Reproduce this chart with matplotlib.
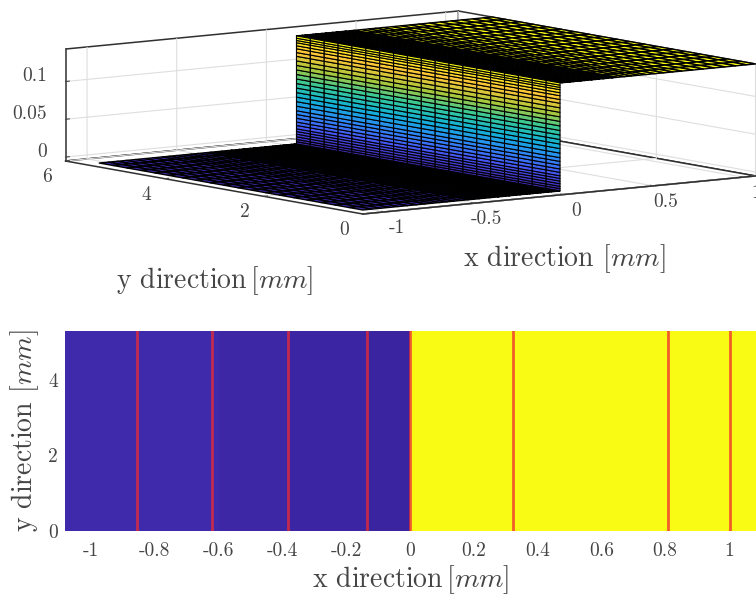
import matplotlib
matplotlib.use("Agg")
import numpy as np
import matplotlib.pyplot as plt
from matplotlib.colors import LinearSegmentedColormap
from mpl_toolkits.mplot3d import Axes3D  # noqa

plt.rcParams['font.family'] = ['cmr10', 'DejaVu Serif']
plt.rcParams['mathtext.fontset'] = 'cm'
plt.rcParams['axes.unicode_minus'] = False
plt.rcParams['axes.formatter.use_mathtext'] = True

# ---- data -------------------------------------------------------------
floor_x = [-1.12,-1.07,-1.02,-.97,-.92,-.87,-.82,-.77,-.73,-.69,-.65,-.61,-.57,-.53,-.50,-.47,-.44,-.41,-.385,-.36,
           -.34,-.32,-.30,-.28,-.26,-.24,-.22,-.20,-.185,-.17,-.155,-.14,-.125,-.11,-.095,-.08,-.065,-.05,-.035,-.02]
top_x = [-.02,-.005,.01,.025,.04,.055,.07,.085,.10,.12,.14,.16,.18,.20,.225,.25,.275,.30,.34,.38,.42,.46,
         .51,.56,.61,.66,.72,.78,.84,.90,.96,1.02,1.07]
surf_y = [0,.28,.56,.84,1.12,1.40,1.68,1.96,2.24,2.52,2.80,3.08,3.36,3.64,3.92,4.20,4.48,4.76,5.04,5.32]
wall_z = [0,.003,.006,.0095,.013,.0165,.02,.0245,.029,.034,.039,.044,.050,.056,.062,.068,.074,
          .080,.086,.092,.098,.104,.110,.116,.121,.126,.130,.134,.137,.140,.143]
wall_x = -0.02
x_ticks_3d = [-1,-0.5,0,0.5,1]
y_ticks_3d = [0,2,4,6]
z_ticks_3d = [0,0.05,0.1]

map_x_edges = [-1.082,-0.6,-0.38,-0.135,0,1.085]
map_values = [0.02,0.012,0.008,0.005,1.0]
map_y_edges = [0,5.3]
red_lines_x = [-0.856,-0.621,-0.382,-0.135,0.0,0.323,0.809,1.003]
map_x_ticks = [-1,-0.8,-0.6,-0.4,-0.2,0,0.2,0.4,0.6,0.8,1]
map_y_ticks = [0,2,4]

parula = LinearSegmentedColormap.from_list('parula', [
    (0.2422,0.1504,0.6603),(0.2810,0.3228,0.9579),(0.1786,0.5289,0.9682),(0.0689,0.6948,0.8394),
    (0.2161,0.7843,0.5923),(0.6720,0.7793,0.2227),(0.9970,0.7659,0.2199),(0.9769,0.9839,0.0805)])
map_cmap = LinearSegmentedColormap.from_list('m', [(0,'#3A229C'),(0.02,'#402AAC'),(1,'#F9FB15')])
TXT = '#454545'

fig = plt.figure(figsize=(7.56,5.95), dpi=100)

# ---- 3D panel -----------------------------------------------------------
L = 800.0
ax = fig.add_axes([-0.3/756, 71.7/595, L/756, L/595], projection='3d', proj_type='ortho')
ax.patch.set_visible(False)
ax.set_box_aspect((488,501,113), zoom=687.6/L)
ax.view_init(elev=7.55, azim=-126.4)
ax.set_xlim(-1.12,1.07); ax.set_ylim(0,6); ax.set_zlim(-0.0053,0.143)
ax.computed_zorder = False
zmax = max(wall_z)

# floor
X,Y = np.meshgrid(floor_x, surf_y)
ax.plot_surface(X,Y,np.zeros_like(X),color=parula(0.0),edgecolor='k',linewidth=1.0,shade=False,zorder=2,rstride=1,cstride=1)
# top
X,Y = np.meshgrid(top_x, surf_y)
ax.plot_surface(X,Y,np.full_like(X,zmax),color=parula(1.0),edgecolor='k',linewidth=1.0,shade=False,zorder=3,rstride=1,cstride=1)
# wall
Y,Z = np.meshgrid(surf_y, wall_z)
mid = (Z[:-1,:-1]+Z[1:,1:])/2/zmax
ax.plot_surface(np.full_like(Y,wall_x),Y,Z,facecolors=parula(mid),edgecolor='k',linewidth=0.8,shade=False,zorder=4,rstride=1,cstride=1)

ax.set_xticks(x_ticks_3d); ax.set_yticks(y_ticks_3d); ax.set_zticks(z_ticks_3d)
ax.set_xticklabels(['-1','-0.5','0','0.5','1']); ax.set_yticklabels(['0','2','4','6'])
ax.set_zticklabels(['0','0.05','0.1'], ha='right', va='baseline')
for a in (ax.xaxis,ax.yaxis,ax.zaxis):
    a.set_pane_color((1,1,1,1))
    a.pane.set_edgecolor('#303030')
    a.pane.set_linewidth(1.1)
    a.line.set_color('#303030')
    a.line.set_linewidth(1.1)
    a._axinfo['grid']['color']=(0.87,0.87,0.87,1)
    a._axinfo['grid']['linewidth']=0.8
    a._axinfo['tick']['inward_factor']=0.0
    a._axinfo['tick']['outward_factor']=0.12
ax.tick_params(axis='x',labelsize=14,colors=TXT,pad=5)
ax.tick_params(axis='y',labelsize=14,colors=TXT,pad=6)
ax.tick_params(axis='z',labelsize=14,colors=TXT,pad=0)

fig.text(564/756,1-259/595,r'x direction $[mm]$',ha='center',va='center',fontsize=20,color=TXT)
fig.text(215/756,1-281/595,r'y direction$\,[mm]$',ha='center',va='center',fontsize=20,color=TXT)

# ---- map panel ----------------------------------------------------------
ax2 = fig.add_axes([65/756,(595-531)/595,691/756,200/595])
ax2.pcolormesh(map_x_edges,map_y_edges,[map_values],cmap=map_cmap,vmin=0,vmax=1)
for xv in red_lines_x:
    ax2.axvline(xv,color='#F02A30',alpha=0.75,lw=2)
ax2.set_xlim(-1.082,1.085); ax2.set_ylim(0,5.3)
ax2.set_xticks(map_x_ticks); ax2.set_yticks(map_y_ticks)
ax2.set_xticklabels(['-1','-0.8','-0.6','-0.4','-0.2','0','0.2','0.4','0.6','0.8','1'])
ax2.set_yticklabels(['0','2','4'])
ax2.tick_params(length=0,labelsize=14,colors=TXT,pad=8)
ax2.tick_params(axis='y',pad=5)
for s in ax2.spines.values():
    s.set_visible(False)
ax2.set_xlabel(r'x direction$\,[mm]$',fontsize=20,color=TXT,labelpad=2)
ax2.set_ylabel(r'y direction $[mm]$',fontsize=20,color=TXT,labelpad=5)
fig.savefig('out.png',dpi=100)
